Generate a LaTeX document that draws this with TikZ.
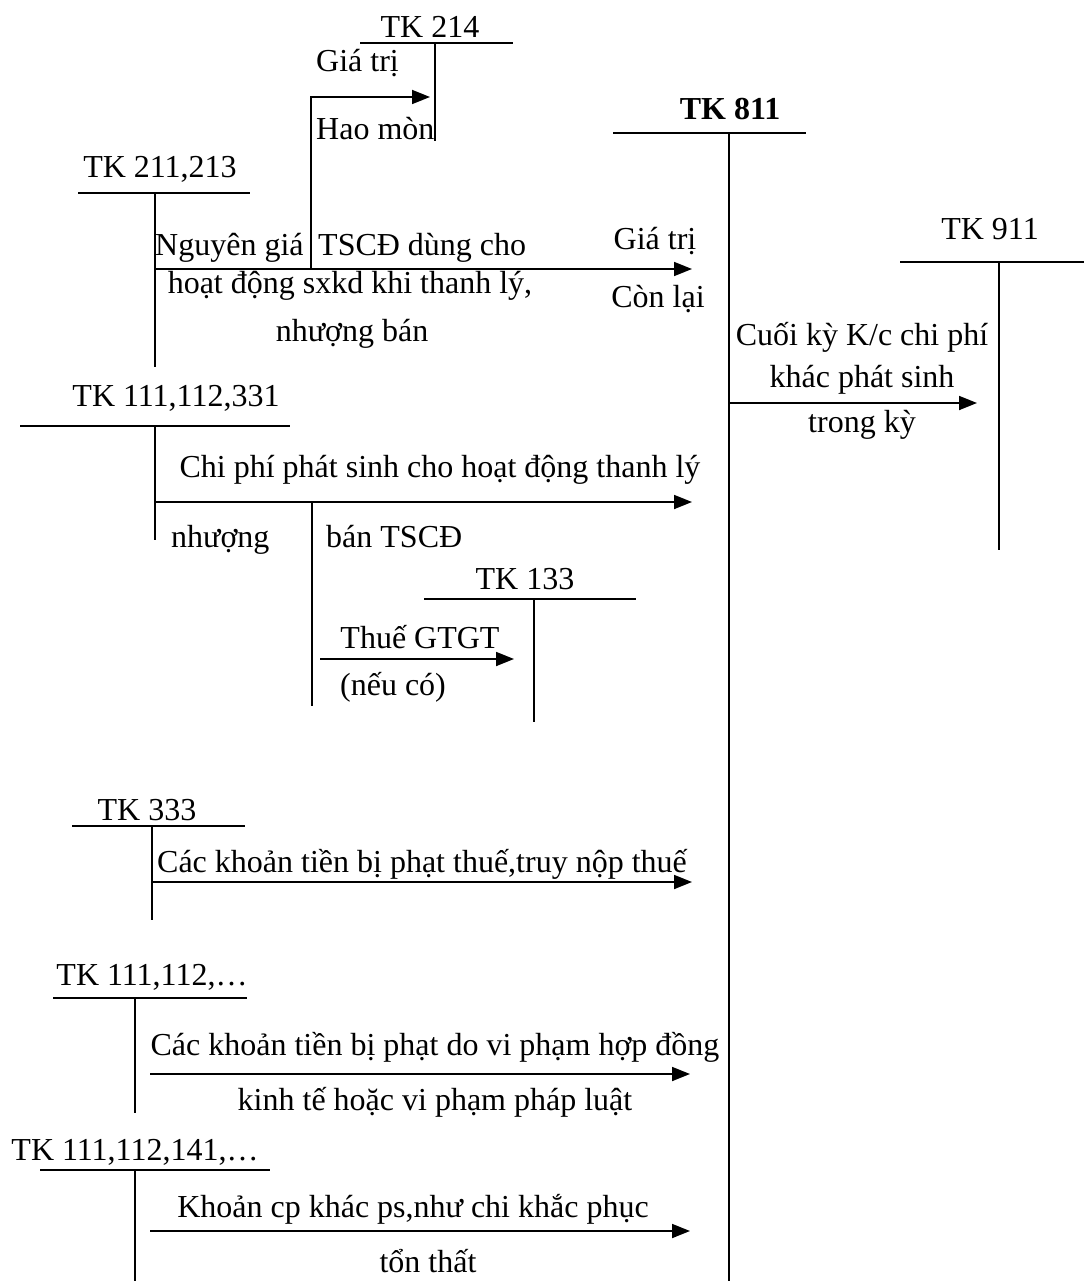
\documentclass[tikz,border=0pt]{standalone}
\usepackage{fontspec}
\setmainfont{Liberation Serif}
\usetikzlibrary{arrows.meta}
\begin{document}
\begin{tikzpicture}[x=1pt,y=-1pt,
  ln/.style={line width=1.8pt},
  flow/.style={line width=1.8pt,-{Triangle[length=18pt,width=14pt]}},
  txt/.style={inner sep=0pt,anchor=base,font=\fontsize{32}{38}\selectfont},
  txtl/.style={txt,anchor=base west},
  txtr/.style={txt,anchor=base east}]
\useasboundingbox (0,0) rectangle (1084,1281);

% ---------- TK 214
\node[txt] (t214) at (430,38) {TK 214};
\coordinate (a214l) at (360,43); \coordinate (a214r) at (513,43);
\coordinate (a214t) at (435,43); \coordinate (a214b) at (435,141);
\draw[ln] (a214l) -- (a214r); \draw[ln] (a214t) -- (a214b);
\node[txtl] (g1) at (316,72) {Giá trị};
\node[txtl] (h1) at (316,140) {Hao mòn};

% ---------- TK 811
\node[txt,font=\fontsize{32}{38}\selectfont\bfseries] (t811) at (730,120) {TK 811};
\coordinate (a811l) at (613,133); \coordinate (a811r) at (806,133);
\coordinate (a811t) at (729,133); \coordinate (a811b) at (729,1281);
\draw[ln] (a811l) -- (a811r); \draw[ln] (a811t) -- (a811b);

% ---------- TK 211,213
\node[txt] (t211) at (160,178) {TK 211,213};
\coordinate (a211l) at (78,193); \coordinate (a211r) at (250,193);
\coordinate (a211t) at (155,193); \coordinate (a211b) at (155,367);
\draw[ln] (a211l) -- (a211r); \draw[ln] (a211t) -- (a211b);
\coordinate (f1s) at (155,269); \coordinate (f1e) at (692,269);
\draw[flow] (f1s) -- (f1e);
\coordinate (hm) at (311,269); \coordinate (hmtip) at (430,97);
\draw[flow] (hm) |- (hmtip);
\node[txtl] (n1a) at (155,255) {Nguyên giá};
\node[txtl] (n1b) at (318,255) {TSCĐ dùng cho};
\node[txt] (n1c) at (350,293) {hoạt động sxkd khi thanh lý,};
\node[txt] (n1d) at (352,341) {nhượng bán};
\node[txt] (g2) at (655,250) {Giá trị};
\node[txt] (c2) at (658,307) {Còn lại};

% ---------- TK 911
\node[txt] (t911) at (990,240) {TK 911};
\coordinate (a911l) at (900,262); \coordinate (a911r) at (1084,262);
\coordinate (a911t) at (999,262); \coordinate (a911b) at (999,550);
\draw[ln] (a911l) -- (a911r); \draw[ln] (a911t) -- (a911b);
\coordinate (f9s) at (729,403); \coordinate (f9e) at (977,403);
\draw[flow] (f9s) -- (f9e);
\node[txt] (k1) at (862,345) {Cuối kỳ K/c chi phí};
\node[txt] (k2) at (862,387) {khác phát sinh};
\node[txt] (k3) at (862,432) {trong kỳ};

% ---------- TK 111,112,331
\node[txt] (t111a) at (176,406) {TK 111,112,331};
\coordinate (b1l) at (20,426); \coordinate (b1r) at (290,426);
\coordinate (b1t) at (155,426); \coordinate (b1b) at (155,540);
\draw[ln] (b1l) -- (b1r); \draw[ln] (b1t) -- (b1b);
\coordinate (f2s) at (155,502); \coordinate (f2e) at (692,502);
\draw[flow] (f2s) -- (f2e);
\coordinate (v2t) at (312,502); \coordinate (v2b) at (312,706);
\draw[ln] (v2t) -- (v2b);
\node[txt] (cp) at (440,477) {Chi phí phát sinh cho hoạt động thanh lý};
\node[txtl] (nh) at (171,547) {nhượng};
\node[txtl] (bt) at (326,547) {bán TSCĐ};

% ---------- TK 133
\node[txt] (t133) at (525,589) {TK 133};
\coordinate (c1l) at (424,599); \coordinate (c1r) at (636,599);
\coordinate (c1t) at (534,599); \coordinate (c1b) at (534,722);
\draw[ln] (c1l) -- (c1r); \draw[ln] (c1t) -- (c1b);
\coordinate (f3s) at (320,659); \coordinate (f3e) at (514,659);
\draw[flow] (f3s) -- (f3e);
\node[txt] (th) at (420,648) {Thuế GTGT};
\node[txt] (nc) at (393,695) {(nếu có)};

% ---------- TK 333
\node[txt] (t333) at (147,820) {TK 333};
\coordinate (d1l) at (72,826); \coordinate (d1r) at (245,826);
\coordinate (d1t) at (152,826); \coordinate (d1b) at (152,920);
\draw[ln] (d1l) -- (d1r); \draw[ln] (d1t) -- (d1b);
\coordinate (f4s) at (152,882); \coordinate (f4e) at (692,882);
\draw[flow] (f4s) -- (f4e);
\node[txt] (ck1) at (422,872) {Các khoản tiền bị phạt thuế,truy nộp thuế};

% ---------- TK 111,112,...
\node[txt] (t111b) at (152,985) {TK 111,112,…};
\coordinate (e1l) at (53,998); \coordinate (e1r) at (247,998);
\coordinate (e1t) at (135,998); \coordinate (e1b) at (135,1113);
\draw[ln] (e1l) -- (e1r); \draw[ln] (e1t) -- (e1b);
\coordinate (f5s) at (150,1074); \coordinate (f5e) at (690,1074);
\draw[flow] (f5s) -- (f5e);
\node[txt] (ck2) at (435,1055) {Các khoản tiền bị phạt do vi phạm hợp đồng};
\node[txt] (ck3) at (435,1110) {kinh tế hoặc vi phạm pháp luật};

% ---------- TK 111,112,141,...
\node[txt] (t111c) at (135,1160) {TK 111,112,141,…};
\coordinate (g1l) at (40,1170); \coordinate (g1r) at (270,1170);
\coordinate (g1t) at (135,1170); \coordinate (g1b) at (135,1281);
\draw[ln] (g1l) -- (g1r); \draw[ln] (g1t) -- (g1b);
\coordinate (f6s) at (150,1231); \coordinate (f6e) at (690,1231);
\draw[flow] (f6s) -- (f6e);
\node[txt] (kp1) at (413,1217) {Khoản cp khác ps,như chi khắc phục};
\node[txt] (kp2) at (428,1272) {tổn thất};
\end{tikzpicture}
\end{document}
